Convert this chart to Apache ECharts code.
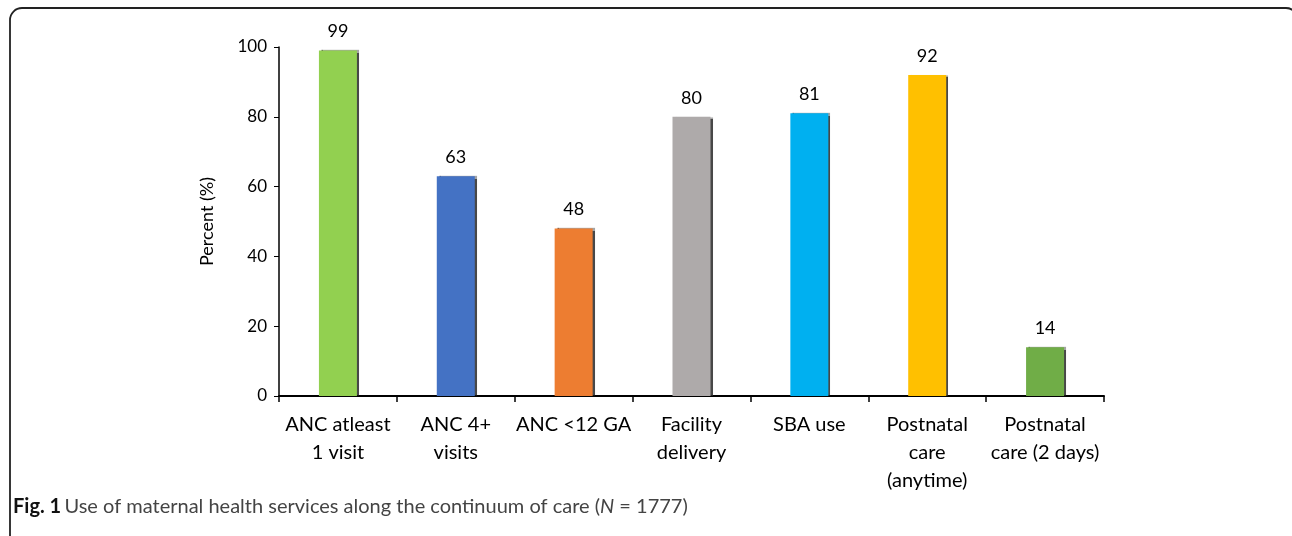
<!DOCTYPE html>
<html>
<head>
<meta charset="utf-8">
<script src="https://cdn.jsdelivr.net/npm/echarts@6/dist/echarts.min.js"></script>
<style>
  html, body { margin: 0; padding: 0; background: #fff; }
  #chart { width: 1292px; height: 536px; }
</style>
</head>
<body>
<div id="chart"></div>
<script>
// Maternal health service use along the continuum of care
const categories = [
  'ANC atleast\n1 visit',
  'ANC 4+\nvisits',
  'ANC <12 GA',
  'Facility\ndelivery',
  'SBA use',
  'Postnatal\ncare\n(anytime)',
  'Postnatal\ncare (2 days)'
];
const percentValues = [99, 63, 48, 80, 81, 92, 14];
const barColors = ['#92D050', '#4472C4', '#ED7D31', '#AEAAAA', '#00B0F0', '#FFC000', '#70AD47'];
const yTicks = { min: 0, max: 100, interval: 20 };

const FONT = 'Lato, "Open Sans", sans-serif';

const chart = echarts.init(document.getElementById('chart'), null, { renderer: 'canvas' });

chart.setOption({
  backgroundColor: '#ffffff',
  animation: false,
  grid: { left: 279, right: 188, top: 47, bottom: 140, containLabel: false },
  xAxis: {
    type: 'category',
    data: categories,
    boundaryGap: true,
    axisLine: { show: true, lineStyle: { color: '#000', width: 2 } },
    axisTick: { show: true, length: 6, lineStyle: { color: '#000', width: 1.5 } },
    axisLabel: {
      interval: 0,
      margin: 15,
      fontFamily: FONT,
      fontSize: 20,
      lineHeight: 28,
      color: '#000'
    }
  },
  yAxis: {
    type: 'value',
    min: yTicks.min,
    max: yTicks.max,
    interval: yTicks.interval,
    name: 'Percent (%)',
    nameLocation: 'middle',
    nameRotate: 90,
    nameGap: 63,
    nameTextStyle: { fontFamily: FONT, fontSize: 18, color: '#000' },
    axisLine: { show: true, lineStyle: { color: '#000', width: 1.5 } },
    axisTick: { show: true, length: 5, lineStyle: { color: '#000', width: 1 } },
    axisLabel: { margin: 12, fontFamily: FONT, fontSize: 17, color: '#000' },
    splitLine: { show: false }
  },
  series: [{
    type: 'bar',
    data: percentValues.map((v, i) => ({ value: v, itemStyle: { color: barColors[i] } })),
    barWidth: 38,
    itemStyle: {
      shadowColor: 'rgba(40,40,40,0.85)',
      shadowOffsetX: 2,
      shadowOffsetY: 0,
      shadowBlur: 1
    },
    label: {
      show: true,
      position: 'top',
      distance: 10,
      fontFamily: FONT,
      fontSize: 18,
      color: '#000'
    }
  }],
  graphic: [
    {
      type: 'rect',
      silent: true,
      shape: { x: 10, y: 8, width: 1288, height: 540, r: 12 },
      style: { fill: 'none', stroke: '#222', lineWidth: 1.8 }
    },
    {
      type: 'text',
      left: 13,
      top: 497,
      style: {
        text: '{b|Fig. 1} {n|Use of maternal health services along the continuum of care (}{i|N}{n| = 1777)}',
        rich: {
          b: { fontFamily: FONT, fontSize: 20, fontWeight: 'bold', fill: '#111' },
          n: { fontFamily: FONT, fontSize: 20, fill: '#444' },
          i: { fontFamily: FONT, fontSize: 20, fontStyle: 'italic', fill: '#444' }
        }
      }
    }
  ]
});
</script>
</body>
</html>
